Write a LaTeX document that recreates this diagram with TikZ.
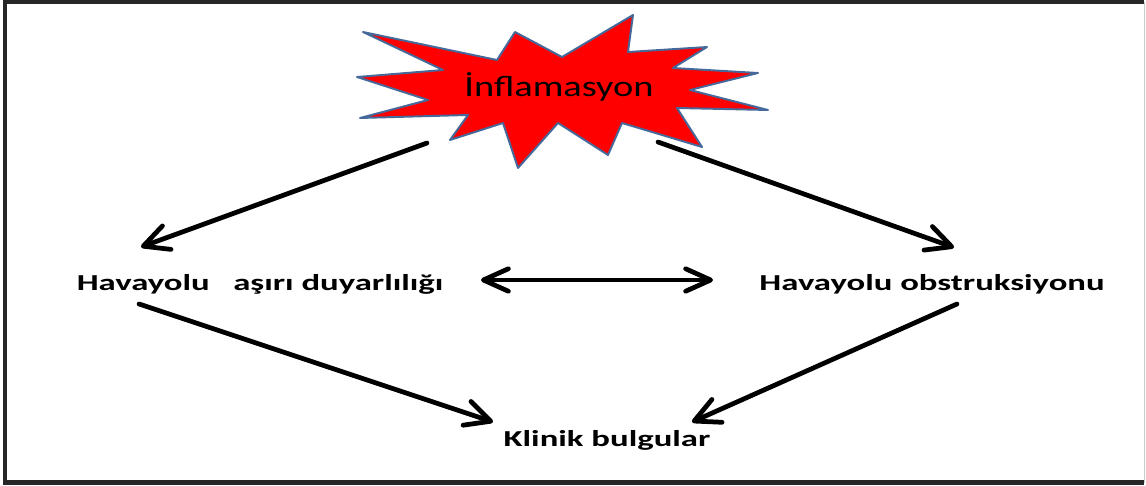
\documentclass[tikz,border=0pt]{standalone}
\usepackage{fontspec}
\setmainfont{Carlito}
\usetikzlibrary{arrows.meta}
\definecolor{burstred}{HTML}{FF0000}
\definecolor{burstline}{HTML}{44699A}

\begin{document}
\begin{tikzpicture}[x=0.02cm,y=-0.02cm,
  lbl/.style={font=\bfseries\fontsize{13}{15}\selectfont,xscale=1.52,anchor=base,inner sep=0pt},
  link/.style={line width=2.7pt,line cap=round,-{Straight Barb[round,length=5mm,width=5mm]}}]
\useasboundingbox (0,0) rectangle (1146,486);
\draw[line width=2.3pt,black!85] (1144,2) -- (5,2) -- (5,482.5) -- (1144,482.5);
\draw[line width=0.6pt,black!20] (1144.5,2) -- (1144.5,482.5);
\draw[burstline,fill=burstred,line width=1.1pt,line join=round]
  (363,32) -- (497,60) -- (515,32) -- (562,57) -- (633,15) -- (628,52) -- (707,47) -- (673,68)
  -- (758,73) -- (690,90) -- (768,110) -- (677,108) -- (702,147) -- (622,123) -- (608,155)
  -- (558,123) -- (518,168) -- (503,123) -- (450,140) -- (468,115) -- (360,118) -- (428,100)
  -- (357,77) -- (443,70) -- cycle;
\node[font=\fontsize{16.7}{19}\selectfont,xscale=1.31,anchor=base,inner sep=0pt] (inf) at (559,97) {İnflamasyon};
\node[lbl] (aad) at (260,291) {Havayolu\ \ \ aşırı duyarlılığı};
\node[lbl] (obs) at (932,291) {Havayolu obstruksiyonu};
\node[lbl] (kb) at (607,446.5) {Klinik bulgular};
\coordinate (inf-l) at (427,143);
\coordinate (inf-r) at (658,142);
\coordinate (aad-n) at (141,247);
\coordinate (aad-s) at (139,304);
\coordinate (aad-e) at (481,280);
\coordinate (obs-n) at (954,247.5);
\coordinate (obs-s) at (957,304);
\coordinate (obs-w) at (713,280);
\coordinate (kb-w) at (493,422);
\coordinate (kb-e) at (692,422);
\draw[link] (inf-l) -- (aad-n);
\draw[link] (inf-r) -- (obs-n);
\draw[link,{Straight Barb[round,length=5mm,width=4.5mm]}-{Straight Barb[round,length=5mm,width=4.5mm]}] (aad-e) -- (obs-w);
\draw[link] (aad-s) -- (kb-w);
\draw[link] (obs-s) -- (kb-e);
\end{tikzpicture}
\end{document}
